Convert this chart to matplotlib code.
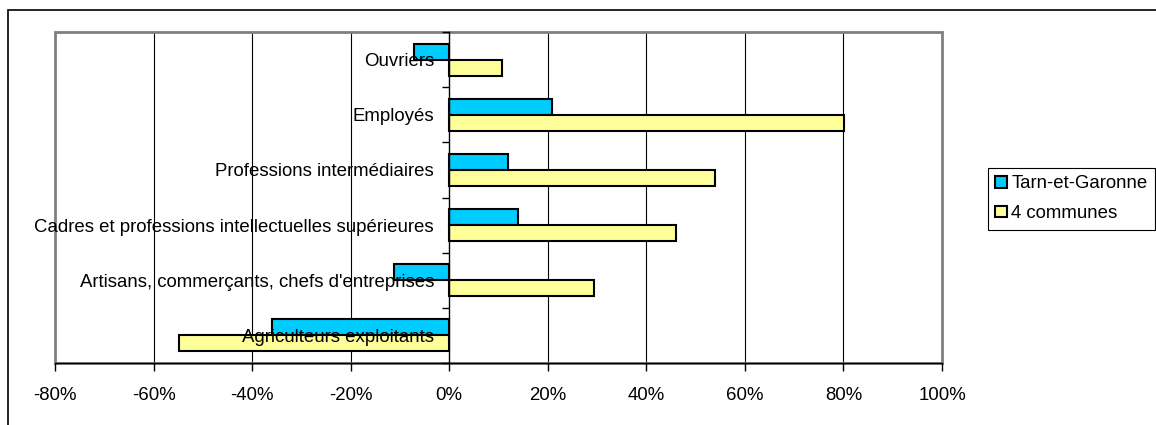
import matplotlib
matplotlib.use('Agg')
import matplotlib.pyplot as plt
from matplotlib.patches import Rectangle, Patch
from matplotlib.ticker import FixedLocator, FuncFormatter
import numpy as np

categories = ["Agriculteurs exploitants",
              "Artisans, commerçants, chefs d'entreprises",
              "Cadres et professions intellectuelles supérieures",
              "Professions intermédiaires",
              "Employés",
              "Ouvriers"]
tarn = [-35.9, -11.2, 13.9, 11.9, 20.9, -7.1]
communes = [-54.8, 29.4, 46.0, 54.0, 80.1, 10.7]
series_names = ["Tarn-et-Garonne", "4 communes"]
x_ticks = [-80, -60, -40, -20, 0, 20, 40, 60, 80, 100]

CYAN = '#00CCFF'
YELLOW = '#FFFF99'
FS = 13.4

plt.rcParams['font.family'] = ['Liberation Sans', 'DejaVu Sans']

W, H = 1156, 425
fig = plt.figure(figsize=(W / 100, H / 100), dpi=100)
ax = fig.add_axes([55 / W, (H - 363) / H, (942 - 55) / W, (363 - 32) / H])

y = np.arange(len(categories))
h = 0.29
ax.barh(y + h / 2, tarn, height=h, color=CYAN, edgecolor='black', linewidth=1.5, zorder=2)
ax.barh(y - h / 2, communes, height=h, color=YELLOW, edgecolor='black', linewidth=1.5, zorder=2)

ax.set_xlim(x_ticks[0], x_ticks[-1])
ax.set_ylim(-0.5, len(categories) - 0.5)

# gridlines behind bars
for xv in x_ticks[1:-1]:
    if xv != 0:
        ax.axvline(xv, color='black', lw=0.8, zorder=0.5)

# gray plot-area frame
ax.add_patch(Rectangle((0, 0), 1, 1, transform=ax.transAxes, fill=False,
                       ec='#808080', lw=2, zorder=0.6, clip_on=False))

for s in ['top', 'right']:
    ax.spines[s].set_visible(False)
ax.spines['bottom'].set_color('black')
ax.spines['bottom'].set_linewidth(1)
ax.spines['left'].set_position(('data', 0))
ax.spines['left'].set_color('black')
ax.spines['left'].set_linewidth(1)

ax.set_axisbelow(False)

ax.xaxis.set_major_locator(FixedLocator(x_ticks))
ax.xaxis.set_major_formatter(FuncFormatter(lambda v, p: f"{v:.0f}%"))
ax.tick_params(axis='x', direction='out', length=6, width=1, pad=11, labelsize=FS, color='black')

ax.set_yticks(y)
ax.set_yticklabels(categories)
ax.yaxis.set_minor_locator(FixedLocator(np.arange(-0.5, len(categories), 1.0)))
ax.tick_params(axis='y', which='major', length=0, pad=11, labelsize=FS)
ax.tick_params(axis='y', which='minor', length=5, width=1, direction='out', color='black')

handles = [Patch(fc=CYAN, ec='black', lw=1.5), Patch(fc=YELLOW, ec='black', lw=1.5)]
leg = fig.legend(handles, series_names, loc='upper left',
                 bbox_to_anchor=(988 / W, 1 - 168 / H), frameon=True, fancybox=False,
                 edgecolor='black', framealpha=1, handlelength=0.6, handleheight=0.6,
                 handletextpad=0.25, borderpad=0.4, labelspacing=0.68, fontsize=FS,
                 borderaxespad=0)
leg.get_frame().set_linewidth(0.8)

# outer chart border (left and top visible)
fig.add_artist(Rectangle((8 / W, -0.2), 1.2, 1 - 10 / H + 0.2, transform=fig.transFigure,
                         fill=False, ec='black', lw=1.2, clip_on=False))

fig.savefig('out.png', dpi=100)
